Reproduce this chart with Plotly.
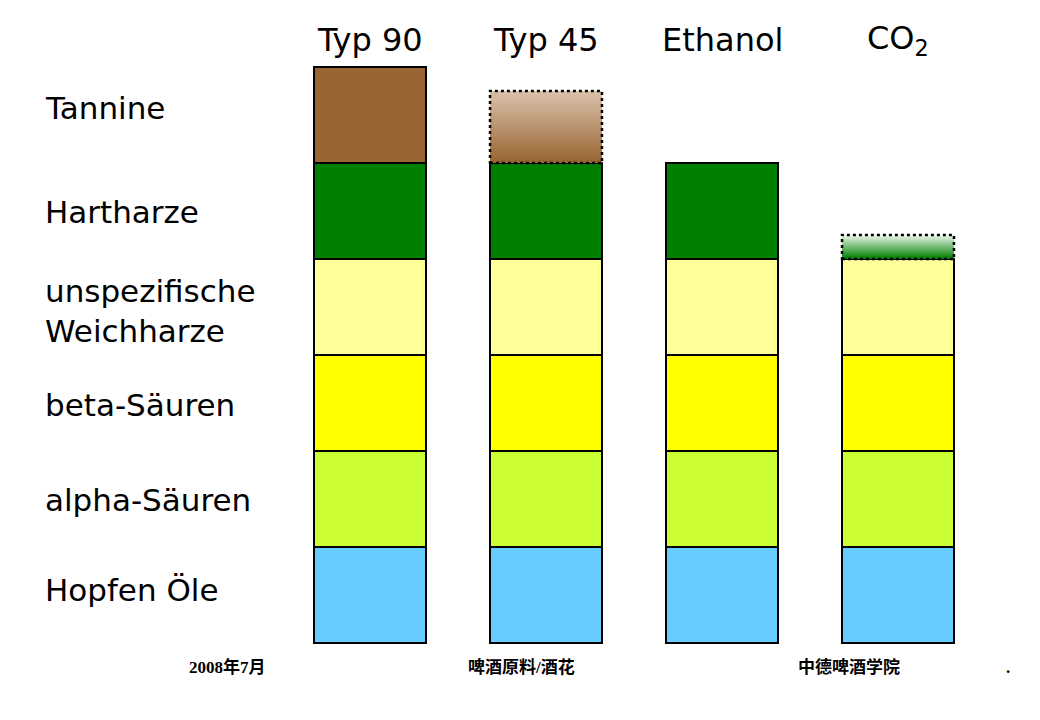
import plotly.graph_objects as go

products = ["Typ 90", "Typ 45", "Ethanol", "CO<sub>2</sub>"]
components = ["Hopfen Öle", "alpha-Säuren", "beta-Säuren", "unspezifische<br>Weichharze", "Hartharze", "Tannine"]
colors = ["#66CCFF", "#CCFF33", "#FFFF00", "#FFFF99", "#008000", "#996633"]
light = ["#66CCFF", "#CCFF33", "#FFFF00", "#FFFF99", "#E8F4E8", "#D8C0A8"]
# amount of each component (rows) in each product (columns); 1 = full
full = {
    "Hopfen Öle":   [1, 1, 1, 1],
    "alpha-Säuren": [1, 1, 1, 1],
    "beta-Säuren":  [1, 1, 1, 1],
    "unspezifische<br>Weichharze": [1, 1, 1, 1],
    "Hartharze":    [1, 1, 1, 0],
    "Tannine":      [1, 0, 0, 0],
}
partial = {
    "Hartharze": [0, 0, 0, 0.25],
    "Tannine":   [0, 0.75, 0, 0],
}

OFF = 8  # page offset of the plot
W = 0.636
fig = go.Figure()
for comp, col in zip(components, colors):
    fig.add_bar(x=list(range(4)), y=full[comp], marker=dict(color=col, line=dict(color="black", width=2)),
                width=W, showlegend=False, hoverinfo="skip")

def hex2rgb(h):
    h = h.lstrip("#"); return [int(h[i:i+2], 16) for i in (0, 2, 4)]

shapes = []
for ci, comp in enumerate(components):
    if comp not in partial: continue
    for pi, v in enumerate(partial[comp]):
        if v <= 0: continue
        base = sum(full[c][pi] for c in components)
        c0, c1 = hex2rgb(colors[ci]), hex2rgb(light[ci])
        n = 24
        for k in range(n):
            t = k / (n - 1)
            rgb = [round(a + (b - a) * t) for a, b in zip(c0, c1)]
            shapes.append(dict(type="rect", x0=pi - W/2, x1=pi + W/2, y0=base + v*k/n, y1=base + v*(k+1)/n,
                               fillcolor="rgb(%d,%d,%d)" % tuple(rgb), line=dict(width=0), layer="above"))
        shapes.append(dict(type="rect", x0=pi - W/2, x1=pi + W/2, y0=base, y1=base + v,
                           line=dict(color="black", width=2.5, dash="dot"), layer="above"))

ann = []
label_y = [590, 500, 405, 311, 212, 108]
for comp, py in zip(components, label_y):
    ann.append(dict(text=comp, x=(43-OFF)/1040, y=1 - (py-OFF)/720, xref="paper", yref="paper", xanchor="left",
                    yanchor="middle", showarrow=False, align="left", font=dict(size=31, color="black")))
for i, p in enumerate(products):
    ann.append(dict(text=p, x=i, y=1 - (40-OFF)/720, xref="x", yref="paper", showarrow=False,
                    yanchor="middle", font=dict(size=32, color="black")))
for t, px in [("2008年7月", 187), ("啤酒原料/酒花", 521), ("中德啤酒学院", 902), (".", 1012)]:
    ann.append(dict(text="<b>" + t + "</b>", x=(px-OFF)/1040, y=1 - (679-OFF)/720, xref="paper", yref="paper",
                    showarrow=False, font=dict(size=17, color="black", family="Liberation Serif, Noto Sans CJK SC")))

fig.update_layout(barmode="stack", width=1040, height=720, margin=dict(l=0, r=0, t=0, b=0),
                  plot_bgcolor="white", paper_bgcolor="white", font=dict(family="DejaVu Sans"),
                  xaxis=dict(range=[-(370-OFF)/176, (1040-370+OFF)/176], visible=False, fixedrange=True),
                  yaxis=dict(range=[-(720-643+OFF)/96, (643-OFF)/96], visible=False, fixedrange=True),
                  shapes=shapes, annotations=ann, bargap=0)
fig.write_html("out.html")
